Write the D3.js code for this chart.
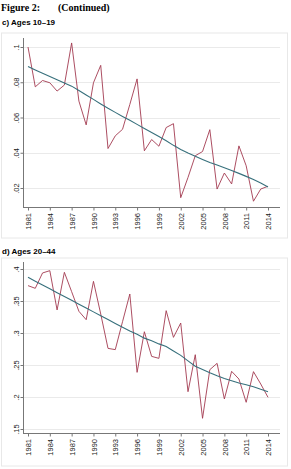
<!DOCTYPE html>
<html><head><meta charset="utf-8">
<script src="https://cdn.jsdelivr.net/npm/d3@7"></script>
<style>body{margin:0;background:#fff}svg{display:block}</style>
</head><body>
<script>
const years = d3.range(1981, 2015);
const tickYears = [1981,1984,1987,1990,1993,1996,1999,2002,2005,2008,2011,2014];

const agesC = [0.100,0.0774,0.081,0.0797,0.075,0.0784,0.1023,0.0693,0.0558,0.0797,0.0896,0.0424,0.0496,0.0533,0.0674,0.0819,0.0411,0.0475,0.0437,0.0543,0.0565,0.0145,0.026,0.0383,0.0407,0.0531,0.0194,0.0285,0.0223,0.0439,0.0326,0.0125,0.0194,0.021];
const trendC = [0.0890,0.0870,0.0851,0.0832,0.0814,0.0796,0.0778,0.0753,0.0728,0.0703,0.0677,0.0652,0.0629,0.0606,0.0584,0.0561,0.0538,0.0515,0.0492,0.0468,0.0442,0.0418,0.0398,0.0380,0.0362,0.0345,0.0330,0.0315,0.0299,0.0283,0.0266,0.0248,0.0228,0.0206];
const ticksC = [0.02,0.04,0.06,0.08,0.1];
const labelsC = [".02",".04",".06",".08",".1"];

const agesD = [0.374,0.3698,0.3938,0.3974,0.336,0.3948,0.3646,0.3339,0.3208,0.3807,0.3297,0.276,0.274,0.3177,0.3609,0.2385,0.302,0.2635,0.2604,0.3349,0.2932,0.3156,0.2083,0.2661,0.1667,0.2427,0.2526,0.1969,0.2401,0.2281,0.1917,0.2396,0.2203,0.1995];
const trendD = [0.387,0.381,0.375,0.369,0.363,0.357,0.351,0.345,0.339,0.333,0.327,0.321,0.315,0.309,0.303,0.298,0.292,0.288,0.283,0.279,0.272,0.265,0.2565,0.248,0.243,0.238,0.2333,0.229,0.2255,0.222,0.219,0.216,0.212,0.2083];
const ticksD = [0.15,0.2,0.25,0.3,0.35,0.4];
const labelsD = [".15",".2",".25",".3",".35",".4"];

const W = 291, H = 469;
const svg = d3.select("body").append("svg").attr("width", W).attr("height", H);

svg.append("text").attr("x", 1).attr("y", 11)
  .style("font-family", "'Liberation Serif','Times New Roman',serif").style("font-weight", "bold").style("font-size", "10px")
  .text("Figure 2:");
svg.append("text").attr("x", 58).attr("y", 11)
  .style("font-family", "'Liberation Serif','Times New Roman',serif").style("font-weight", "bold").style("font-size", "10px")
  .text("(Continued)");

const lineCol = "#a33a50", trendCol = "#37707c";

function panel(opts) {
  const {title, titleY, boxTop, boxBottom, values, trend, ticks, labels, yPix, axisTop, axisY} = opts;
  svg.append("text").attr("x", 2).attr("y", titleY)
    .style("font-family", "'Liberation Sans',Arial,sans-serif").style("font-weight", "bold").style("font-size", "8px")
    .text(title);
  svg.append("rect").attr("x", 1.5).attr("y", boxTop).attr("width", 286).attr("height", boxBottom - boxTop)
    .attr("fill", "none").attr("stroke", "#e8e8e8").attr("stroke-width", 1);
  const x = d3.scaleLinear().domain([1981, 2014]).range([28, 268]);
  const y = d3.scaleLinear().domain([ticks[0], ticks[ticks.length-1]]).range(yPix);
  const left = 23, right = 280;
  const g = svg.append("g");
  g.selectAll(".grid").data(ticks).enter().append("line")
    .attr("x1", left).attr("x2", right).attr("y1", d => Math.round(y(d)) + 0.5).attr("y2", d => Math.round(y(d)) + 0.5)
    .attr("stroke", "#eaeaea").attr("stroke-width", 1);
  const ya = d3.axisLeft(y).tickValues(ticks).tickSize(3).tickFormat((d, i) => labels[i]);
  const yg = g.append("g").attr("transform", `translate(${left + 0.5},0)`).call(ya);
  yg.select(".domain").remove();
  g.append("line").attr("x1", left + 0.5).attr("x2", left + 0.5).attr("y1", axisTop).attr("y2", axisY)
    .attr("stroke", "#777").attr("stroke-width", 1);
  yg.selectAll(".tick line").attr("stroke", "#777");
  yg.selectAll(".tick text")
    .attr("x", null).attr("dy", null)
    .attr("text-anchor", "middle")
    .attr("transform", "translate(-5,0) rotate(-90)")
    .style("font-family", "'Liberation Sans',Arial,sans-serif").style("font-size", "7.5px").attr("fill", "#222");
  const xa = d3.axisBottom(x).tickValues(tickYears).tickSize(3).tickFormat(d3.format("d"));
  const xg = g.append("g").attr("transform", `translate(0,${axisY + 0.5})`).call(xa);
  xg.select(".domain").remove();
  g.append("line").attr("x1", left).attr("x2", right).attr("y1", axisY + 0.5).attr("y2", axisY + 0.5)
    .attr("stroke", "#777").attr("stroke-width", 1);
  xg.selectAll(".tick line").attr("stroke", "#777");
  xg.selectAll(".tick text")
    .attr("y", null).attr("dy", null)
    .attr("text-anchor", "end")
    .attr("transform", "translate(2.7,5.5) rotate(-90)")
    .style("font-family", "'Liberation Sans',Arial,sans-serif").style("font-size", "7.5px").attr("fill", "#222");
  const ln = d3.line().x((d, i) => x(years[i])).y(d => y(d));
  g.append("path").datum(values).attr("d", ln).attr("fill", "none").attr("stroke", lineCol).attr("stroke-width", 0.9);
  g.append("path").datum(trend).attr("d", ln).attr("fill", "none").attr("stroke", trendCol).attr("stroke-width", 1.1);
}

panel({title: "c) Ages 10\u201319", titleY: 25, boxTop: 33, boxBottom: 238, values: agesC, trend: trendC,
  ticks: ticksC, labels: labelsC, yPix: [188, 47], axisTop: 38, axisY: 207});
panel({title: "d) Ages 20\u201344", titleY: 254, boxTop: 258, boxBottom: 466, values: agesD, trend: trendD,
  ticks: ticksD, labels: labelsD, yPix: [429, 269], axisTop: 262, axisY: 433});
</script>
</body></html>
